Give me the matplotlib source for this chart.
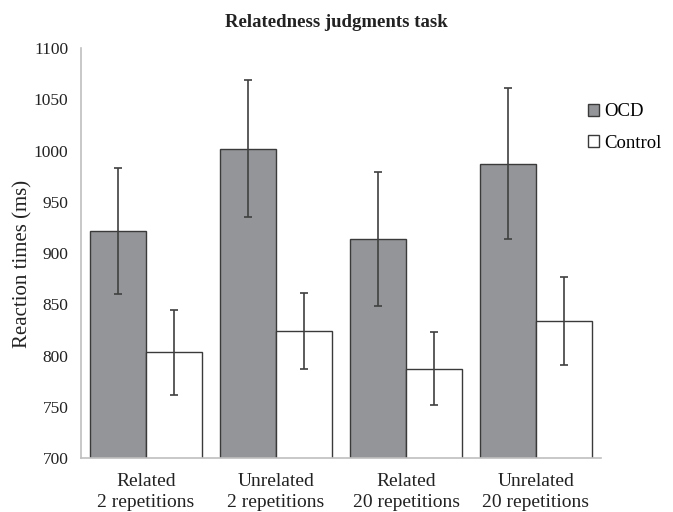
import numpy as np
import matplotlib
matplotlib.use("Agg")
import matplotlib.pyplot as plt
from matplotlib.patches import Patch

plt.rcParams['font.family'] = ['Liberation Serif', 'DejaVu Serif']

# data
categories = ['Related\n2 repetitions', 'Unrelated\n2 repetitions',
              'Related\n20 repetitions', 'Unrelated\n20 repetitions']
ocd = [922, 1002, 914, 987]
ocd_lo = [860, 935, 848, 914]
ocd_hi = [983, 1069, 979, 1061]
control = [803, 824, 787, 834]
control_lo = [761, 787, 752, 791]
control_hi = [844, 861, 823, 877]

fig = plt.figure(figsize=(6.73, 5.12), dpi=100)
ax = fig.add_axes([0.1204, 0.1055, 0.7726, 0.8005])

x = np.arange(len(categories))
w = 0.43
ocd_err = [np.array(ocd) - np.array(ocd_lo), np.array(ocd_hi) - np.array(ocd)]
ctl_err = [np.array(control) - np.array(control_lo), np.array(control_hi) - np.array(control)]

ax.bar(x - w / 2, ocd, w, color='#939598', edgecolor='#3a3a3a', linewidth=1.0,
       label='OCD', zorder=2)
ax.bar(x + w / 2, control, w, color='white', edgecolor='#3a3a3a', linewidth=1.0,
       label='Control', zorder=2)
ax.errorbar(x - w / 2, ocd, yerr=ocd_err, fmt='none', ecolor='#404040', elinewidth=1.2,
            capsize=3, capthick=1.2, zorder=3)
ax.errorbar(x + w / 2, control, yerr=ctl_err, fmt='none', ecolor='#404040', elinewidth=1.2,
            capsize=3, capthick=1.2, zorder=3)

ax.set_ylim(700, 1100)
ax.set_xlim(-0.5, 3.5)
ax.set_yticks(np.arange(700, 1101, 50))
ax.set_xticks(x)
ax.set_xticklabels(categories, fontsize=14, color='#222222', linespacing=1.34)
ax.tick_params(axis='y', labelsize=12.5, length=0, pad=9, colors='#222222')
ax.tick_params(axis='x', length=0, pad=10.5)

for s in ['top', 'right']:
    ax.spines[s].set_visible(False)
for s in ['left', 'bottom']:
    ax.spines[s].set_color('#bfbfbf')
    ax.spines[s].set_linewidth(1.2)

fig.text(23 / 673, 1 - 264 / 512, 'Reaction times (ms)', rotation=90, ha='center',
         va='center', fontsize=15, color='#222222')
fig.text(0.5, 0.957, 'Relatedness judgments task', ha='center', va='center',
         fontsize=13.5, fontweight='bold', color='#222222')

handles = [Patch(facecolor='#939598', edgecolor='#3a3a3a', label='OCD'),
           Patch(facecolor='white', edgecolor='#3a3a3a', label='Control')]
ax.legend(handles=handles, loc='upper left', bbox_to_anchor=(0.975, 0.865), frameon=False,
          fontsize=13.5, handlelength=0.6, handleheight=0.6, handletextpad=0.25,
          labelspacing=0.76, borderaxespad=0, borderpad=0)

fig.savefig('out.png', dpi=100)
